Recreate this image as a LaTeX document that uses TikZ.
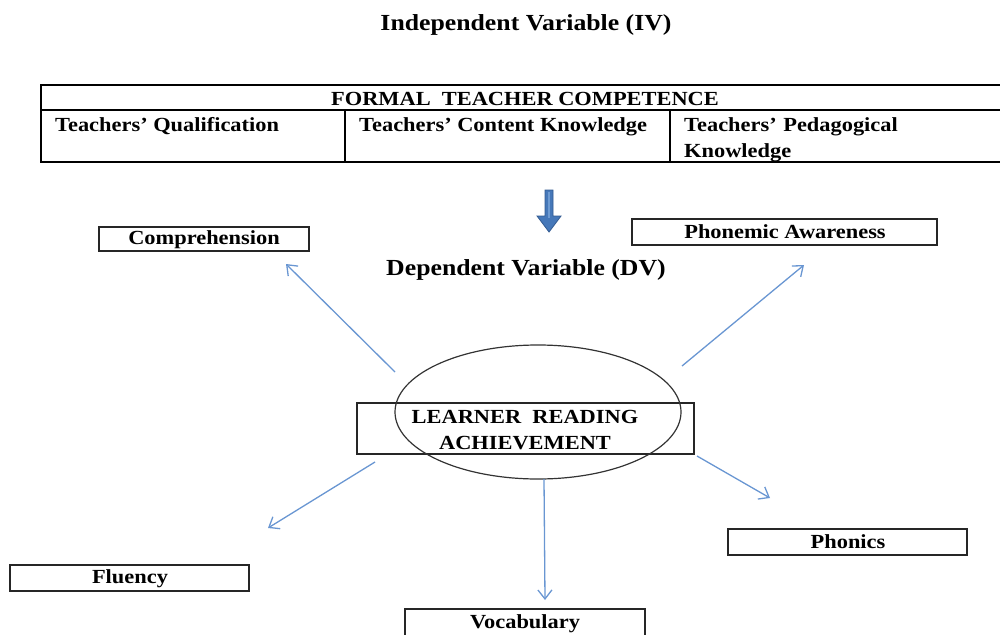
\documentclass[tikz,border=0pt]{standalone}
\usepackage{fontspec}
\setmainfont{Liberation Serif}[FakeStretch=1.12]
\usetikzlibrary{arrows.meta}
\definecolor{arrowblue}{RGB}{105,150,210}
\definecolor{blockblue}{RGB}{70,120,185}
\definecolor{blockedge}{RGB}{50,90,145}
\definecolor{blocklight}{RGB}{110,155,210}
\tikzset{
  lbl/.style={font=\fontsize{20}{24}\selectfont\bfseries, inner sep=0pt, anchor=center},
  ttl/.style={font=\fontsize{23}{28}\selectfont\bfseries, inner sep=0pt},
  cell/.style={font=\fontsize{20}{26}\selectfont\bfseries, inner sep=0pt, anchor=base west, align=left},
  boxline/.style={draw=black!85, line width=1.4pt},
  link/.style={draw=arrowblue, line width=1.3pt, -{Straight Barb[length=9pt,width=14pt,line width=1.3pt]}}
}
\begin{document}
\begin{tikzpicture}[x=1pt,y=-1pt]
\useasboundingbox (0,0) rectangle (1000,634);
% title
\node[ttl] (iv) at (526,25) {Independent Variable (IV)};
% table
\draw[black, line width=1.1pt] (41,85) rectangle (1002,162);
\draw[black, line width=1.1pt] (41,110) -- (1002,110);
\draw[black, line width=1.1pt] (345,110) -- (345,162);
\draw[black, line width=1.1pt] (670,110) -- (670,162);
\node[lbl] (ftc) at (525,99) {FORMAL\ \ TEACHER COMPETENCE};
\node[cell] (tq) at (55,131) {Teachers’ Qualification};
\node[cell] (tck) at (359,131) {Teachers’ Content Knowledge};
\node[cell, text width=300pt] (tpk) at (684,131) {Teachers’ Pedagogical\\Knowledge};
% block arrow
\draw[blockedge, fill=blockblue, line width=0.8pt]
  (545,190) -- (553,190) -- (553,216) -- (561,216) -- (549,232) -- (537,216) -- (545,216) -- cycle;
\fill[blocklight] (548,192) rectangle (550,218);
% dependent variable
\node[ttl] (dv) at (526,270) {Dependent Variable (DV)};
% boxes
\draw[boxline] (99,227) rectangle (309,251);
\node[lbl] (comp) at (204,240) {Comprehension};
\draw[boxline] (632,219) rectangle (937,245);
\node[lbl] (phon) at (785,232) {Phonemic Awareness};
\draw[boxline] (728,529) rectangle (967,555);
\node[lbl] (phonics) at (848,542) {Phonics};
\draw[boxline] (10,565) rectangle (249,591);
\node[lbl] (flu) at (130,579) {Fluency};
\draw[boxline] (405,609) rectangle (645,640);
\node[lbl] (voc) at (525,624) {Vocabulary};
% center
\draw[boxline] (357,403) rectangle (694,454);
\node[lbl, align=center, font=\fontsize{20}{26}\selectfont\bfseries] (lra) at (525,430) {LEARNER\ \ READING\\ACHIEVEMENT};
\draw[black!80, line width=1.2pt] (538,412) ellipse [x radius=143, y radius=67];
% arrow coordinates
\coordinate (s1) at (395,372); \coordinate (e1) at (286,264);
\coordinate (s2) at (682,366); \coordinate (e2) at (804,265);
\coordinate (s3) at (375,462); \coordinate (e3) at (268,528);
\coordinate (s4) at (697,456); \coordinate (e4) at (770,498);
\coordinate (s5) at (544,479); \coordinate (e5) at (545,600);
\draw[link] (s1) -- (e1);
\draw[link] (s2) -- (e2);
\draw[link] (s3) -- (e3);
\draw[link] (s4) -- (e4);
\draw[link] (s5) -- (e5);
\end{tikzpicture}
\end{document}
